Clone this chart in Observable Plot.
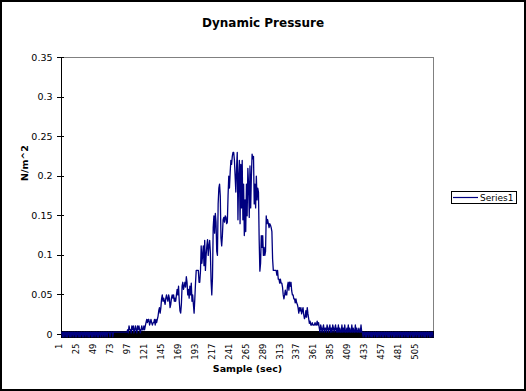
<!DOCTYPE html>
<html><head><meta charset="utf-8">
<script src="https://cdn.jsdelivr.net/npm/d3@7"></script>
<script src="https://cdn.jsdelivr.net/npm/@observablehq/plot@0.6"></script>
<style>
body{margin:0;background:#fff;}
#chart{position:relative;width:526px;height:391px;overflow:hidden;font-family:"DejaVu Sans",sans-serif;background:#fff;}
#chart svg.plot{position:absolute;left:0;top:0;}
#frame{position:absolute;left:0;top:0;width:526px;height:391px;box-sizing:border-box;border:2px solid #000;pointer-events:none;}
#title{position:absolute;left:0;top:17px;width:526px;text-align:center;font:bold 12px "DejaVu Sans";line-height:12px;color:#000;}
#legend{position:absolute;left:451px;top:191px;}
</style></head>
<body>
<div id="chart">
  <div id="title">Dynamic Pressure</div>
  <svg id="legend" width="67" height="13"></svg>
  <div id="frame"></div>
</div>
<script>
// ---- data ----
const quietStart = [
 0.003,-0.003,0.003,-0.003,0.003,0.003,-0.003,0.003,-0.003,0.003,0.003,-0.003,0.003,-0.003,0.003,0.003,-0.003,0.003,0.003,-0.003,
 0.003,-0.003,0.003,0.003,-0.003,0.003,-0.003,0.003,0.003,-0.003,0.003,-0.003,0.003,0.003,-0.003,0.003,0.003,-0.003,0.003,-0.003,
 0.003,0.003,-0.003,0.003,-0.003,0.003,0.003,-0.003,0.003,0.003,-0.003,0.003,-0.003,0.003,0.003,-0.003,0.003,0.003,-0.003,0.003,
 0.003,-0.003,0.003,0.003,-0.003,0.003,0.003,0.003,-0.003,0.003,0.003,0.003,-0.003];
const flatStart = [0.003,0.003,0.003,0.003,0.003,0.003,0.003,0.003,0.003,0.003,
 0.003,0.003,0.003,0.003,0.003,0.003,0.003,0.003,0.003,0.003];
const earlyRise = [0.006,0.002,0.011,0.006,0.006,0.002,0.011,0.006,0.011,0.002,0.006,0.011,0.006,
 0.002,0.011,0.006,0.011,0.006,0.002,0.006,0.011,0.006,0.006,0.011,0.006,0.011];
const lowStep = [0.015,0.019,0.015,0.019,0.019,0.012,0.015,0.019,0.015,0.012,0.015,
 0.015,0.019,0.012,0.019,0.015,0.019];
const rising = [0.023,0.03,0.034,0.027,0.034, 0.045,0.05,0.042, 0.046,0.042,0.038,0.046,0.05,0.045,
 0.042,0.05,0.046,0.034,0.038,0.046, 0.05,0.046,0.05,0.042,0.046,0.042,0.05, 0.057,0.05,0.061,
 0.042,0.03,0.027,0.038, 0.061,0.066,0.057,0.061,0.066,0.06, 0.073,0.066,
 0.05,0.057,0.046,0.061,0.05,0.065,0.042,0.05, 0.038,0.027,0.045,
 0.065,0.081,0.081,0.081,0.081,0.066,0.066];
const peakUp = [0.08,0.112,0.09,0.1,0.112,0.087,0.119, 0.081,0.1,0.112,0.12,0.1,0.112,
 0.119,0.104,0.068,0.05,0.072, 0.135,0.15,0.128,0.153,0.142, 0.105,0.1, 0.165,0.185,0.19,0.175,
 0.122,0.112,0.125, 0.145,0.148,0.142,0.15,0.148,0.14,0.142, 0.175,0.2,0.185,0.205,
 0.22,0.215,0.225,0.23,0.23,0.22, 0.2,0.18,0.21, 0.23,0.145,0.2,0.22,
 0.14,0.215,0.16,0.22,0.145, 0.19,0.125];
const peakDown = [0.17,0.13,0.19,0.15, 0.21,0.19, 0.148,0.213,0.16, 0.2,0.228,0.222,0.225,
 0.165,0.19,0.16,0.2,0.17, 0.185,0.18, 0.12,0.08,0.09, 0.125,0.11,0.125,0.1, 0.11,0.1,0.105,
 0.15,0.14,0.145,0.14, 0.135,0.14,0.138,0.135, 0.13,0.095, 0.081,0.081,0.081,0.081,
 0.081,0.075,0.081, 0.07,0.07,0.065,0.07,0.065,0.065,0.06, 0.05,0.045,0.05,
 0.056,0.05,0.05, 0.061,0.066,0.056,0.066,0.061];
const tail = [0.066,0.055,0.05,0.05, 0.045,0.045,0.04,0.045,0.04, 0.038,0.034,0.027,0.034,0.03,
 0.034,0.026,0.03,0.034, 0.025,0.02,0.022, 0.03,0.022,0.034,0.026, 0.02,0.014,0.017,
 0.012,0.012,0.015,0.012,0.012,0.012,0.015,0.012,0.012, 0.017,0.012,0.015];
const lowNoise = [0.008,0.003,0.012,0.008,0.003,0.008,0.012,0.003,0.008,0.008,0.003,0.012,
 0.008,0.003,0.008,0.012,0.003,0.008,0.003,0.012,0.008,0.003,0.008,0.012];
const lowNoise2 = [0.003,0.008,0.003,0.012,0.003,0.008,0.003,0.003,0.012,0.003,
 0.008,0.003,0.012,0.003,0.003,0.008,0.003,0.012,0.003,0.008,
 0.003,0.003,0.012,0.003,0.008,0.003,0.003,0.012,0.003,0.008,
 0.003,0.003,0.008,0.003,0.003,0.012,0.003];
const quietEnd = [
 0.003,-0.003,0.003,0.003,-0.003,0.003,-0.003,0.003,0.003,-0.003,0.003,0.003,-0.003,0.003,-0.003,0.003,0.003,-0.003,0.003,0.003,
 -0.003,0.003,-0.003,0.003,0.003,-0.003,0.003,0.003,-0.003,0.003,-0.003,0.003,0.003,-0.003,0.003,0.003,-0.003,0.003,-0.003,0.003,
 0.003,-0.003,0.003,0.003,-0.003,0.003,-0.003,0.003,0.003,-0.003,0.003,0.003,-0.003,0.003,0.003,-0.003,0.003,-0.003,0.003,0.003,
 -0.003,0.003,0.003,-0.003,0.003,-0.003,0.003,0.003,-0.003,0.003,0.003,-0.003,0.003,-0.003,0.003,0.003,-0.003,0.003,0.003,-0.003,
 0.003,-0.003,0.003,0.003,-0.003,0.003,0.003,-0.003,0.003,-0.003,0.003,0.003,-0.003,0.003,0.003,-0.003,0.003,-0.003,0.003,0.003,
 -0.003];
const xTickLabels = [1,25,49,73,97,121,145,169,193,217,241,265,289,313,337,361,385,409,433,457,481,505];
const yTickValues = [0,0.05,0.1,0.15,0.2,0.25,0.3,0.35];
const yTickLabels = ["0","0.05","0.1","0.15","0.2","0.25","0.3","0.35"];
const seriesName = "Series1";
const seriesColor = "#000080";

// ---- build ----
const pressure = [].concat(quietStart, flatStart, earlyRise, lowStep, rising, peakUp, peakDown, tail, lowNoise, lowNoise2, quietEnd);
const rows = pressure.map((v, i) => ({sample: i + 1, value: v}));
const n = pressure.length;
const categoryEdges = d3.range(0.5, n + 1, 1);
const pxPerCat = 372 / n;

const plot = Plot.plot({
  width: 526, height: 391,
  marginLeft: 61, marginRight: 93, marginTop: 57, marginBottom: 57,
  x: {type: "linear", domain: [0.5, n + 0.5], axis: null},
  y: {domain: [0, 0.35], axis: null},
  style: {fontFamily: "DejaVu Sans", background: "transparent", color: "#000"},
  marks: [
    Plot.frame({stroke: "#808080"}),
    Plot.ruleX(categoryEdges, {x: d => d, y1: -0.005, y2: 0.004, stroke: "#000", strokeWidth: 1, shapeRendering: "crispEdges"}),
    Plot.ruleY([0], {stroke: "#000"}),
    Plot.ruleX([0.5], {stroke: "#000", shapeRendering: "crispEdges"}),
    Plot.ruleY(yTickValues, {y: d => d, x1: 0.5 - 4 / pxPerCat, x2: 0.5 + 3 / pxPerCat, stroke: "#000", shapeRendering: "crispEdges"}),
    Plot.line(rows, {x: "sample", y: "value", stroke: seriesColor, strokeWidth: 1.3}),
    Plot.text(yTickLabels, {y: (d, i) => yTickValues[i], frameAnchor: "left", dx: -9, textAnchor: "end", fontSize: 9.5, fill: "#000"}),
    Plot.text(xTickLabels, {x: d => d, text: d => String(d), frameAnchor: "bottom", dy: 9, rotate: -90, textAnchor: "end", fontSize: 8.5, fill: "#000"}),
    Plot.text(["Sample (sec)"], {frameAnchor: "bottom", dy: 37, fontWeight: "bold", fontSize: 9.5, fill: "#000"}),
    Plot.text(["N/m^2"], {frameAnchor: "left", dx: -37, dy: -15, rotate: -90, fontWeight: "bold", fontSize: 9.5, fill: "#000"})
  ]
});
plot.classList.add("plot");
document.getElementById("chart").insertBefore(plot, document.getElementById("title"));

// legend
const lg = d3.select("#legend");
lg.append("rect").attr("x", 0.5).attr("y", 0.5).attr("width", 65).attr("height", 12).attr("fill", "#fff").attr("stroke", "#000");
lg.append("line").attr("x1", 2).attr("x2", 27).attr("y1", 6.5).attr("y2", 6.5).attr("stroke", seriesColor).attr("stroke-width", 1.2);
lg.append("text").attr("x", 29).attr("y", 10).attr("font-family", "DejaVu Sans").attr("font-size", 9).text(seriesName);
</script>
</body></html>
